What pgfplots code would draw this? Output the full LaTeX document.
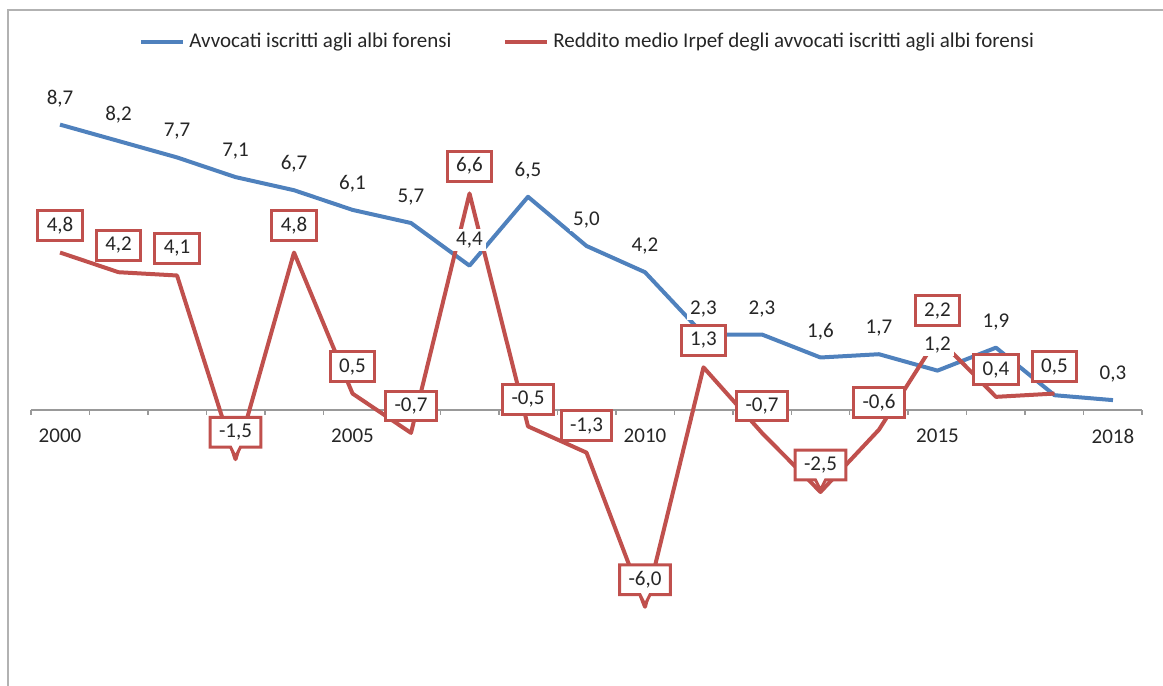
\documentclass[border=0pt]{standalone}
\usepackage{fontspec}
\setmainfont{Carlito}
\usepackage{pgfplots}
\pgfplotsset{compat=1.18}
\usepackage{pgfplotstable}
\usetikzlibrary{shapes.callouts}
\definecolor{xlblue}{HTML}{4F81BD}
\definecolor{xlred}{HTML}{C0504D}
\definecolor{txt}{HTML}{262626}

% variazioni percentuali annue
\pgfplotstableread{
year val lab
2000 8.7 8,7
2001 8.2 8,2
2002 7.7 7,7
2003 7.1 7,1
2004 6.7 6,7
2005 6.1 6,1
2006 5.7 5,7
2007 4.4 4,4
2008 6.5 6,5
2009 5.0 5,0
2010 4.2 4,2
2011 2.3 2,3
2012 2.3 2,3
2013 1.6 1,6
2014 1.7 1,7
2015 1.2 1,2
2016 1.9 1,9
2017 0.45 0,5
2018 0.3 0,3
}\avvocati

\pgfplotstableread{
year val lab cb
2000 4.8 4,8 0
2001 4.2 4,2 0
2002 4.1 4,1 0
2003 -1.5 -1,5 1
2004 4.8 4,8 0
2005 0.5 0,5 0
2006 -0.7 -0,7 0
2007 6.6 6,6 0
2008 -0.5 -0,5 0
2009 -1.3 -1,3 0
2010 -6.0 -6,0 1
2011 1.3 1,3 0
2012 -0.7 -0,7 0
2013 -2.5 -2,5 1
2014 -0.6 -0,6 0
2015 2.2 2,2 0
2016 0.4 0,4 0
2017 0.5 0,5 0
}\reddito

\tikzset{
  redbox/.style={draw=xlred, line width=1.5pt, fill=white, text=txt,
    inner xsep=4.5pt, inner ysep=3.2pt, text height=7pt, text depth=1.5pt,
    anchor=center, yshift=13.5pt, font=\fontsize{10.5}{12}\selectfont},
}

\begin{document}
\begin{tikzpicture}
\begin{axis}[
  scale only axis, x=29.25pt, y=16.4pt,
  xmin=-0.5, xmax=18.5, ymin=-8.415, ymax=12.5,
  clip=false,
  axis y line=none, axis x line=middle,
  axis line style={-, draw=black!40, line width=0.75pt},
  xtick={0,...,18},
  xticklabels={2000,,,,,2005,,,,,2010,,,,,2015,,,2018},
  major tick length=0pt,
  minor xtick={-0.5,0.5,...,18.5},
  minor tick length=2.5pt,
  tick align=outside,
  tick style={draw=black!40, line width=0.75pt},
  xticklabel style={font=\fontsize{10.5}{12}\selectfont, text=txt, yshift=-6pt},
  legend style={at={(0.502,0.9388)}, anchor=center, draw=none, fill=none,
    legend columns=2, font=\fontsize{10.5}{12}\selectfont, text=txt,
    /tikz/every even column/.append style={column sep=24pt}},
  legend image code/.code={\draw[#1, line width=2pt] (0pt,0pt) -- (21pt,0pt);},
]
\addplot[xlblue, line width=2pt, line join=round] table[x expr=\thisrow{year}-2000,y=val]{\avvocati};
\addlegendentry{Avvocati iscritti agli albi forensi}
\addplot[xlred, line width=2pt, line join=round] table[x expr=\thisrow{year}-2000,y=val]{\reddito};
\addlegendentry{Reddito medio Irpef degli avvocati iscritti agli albi forensi}

% etichette serie blu
\addplot[draw=none, forget plot, nodes near coords, point meta=explicit symbolic,
  every node near coord/.append style={anchor=center, yshift=13pt, fill=white,
    inner sep=1.5pt, text=txt, font=\fontsize{10.5}{12}\selectfont}]
  table[x expr=\thisrow{year}-2000,y=val,meta=lab]{\avvocati};
% etichette serie rossa
\addplot[draw=none, forget plot, nodes near coords, point meta=explicit symbolic,
  restrict expr to domain={\thisrow{cb}}{0:0},
  every node near coord/.append style={redbox}]
  table[x expr=\thisrow{year}-2000,y=val,meta=lab]{\reddito};
\addplot[draw=none, forget plot, nodes near coords, point meta=explicit symbolic,
  restrict expr to domain={\thisrow{cb}}{1:1},
  every node near coord/.append style={redbox, rectangle callout,
    callout relative pointer={(0pt,-5pt)}, callout pointer width=5pt}]
  table[x expr=\thisrow{year}-2000,y=val,meta=lab]{\reddito};

\draw[black!30, line width=0.75pt] (axis cs:-0.889,-9.5) |- (axis cs:19.5,12.195);
\coordinate (bbA) at (axis cs:-1.026,-8.415);
\coordinate (bbB) at (axis cs:18.855,12.5);
\end{axis}
\pgfresetboundingbox
\path[use as bounding box] (bbA) rectangle (bbB);
\end{tikzpicture}
\end{document}
